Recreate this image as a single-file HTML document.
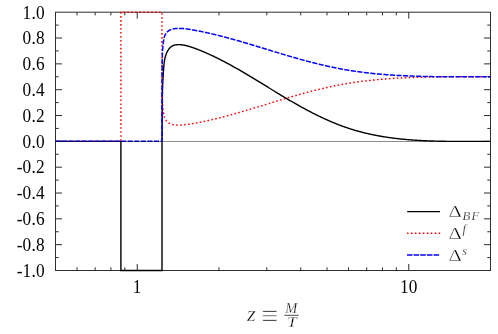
<!DOCTYPE html>
<html><head><meta charset="utf-8"><style>
html,body{margin:0;padding:0;background:#fff;}
svg{display:block}
.tx{filter:grayscale(1)}
text{font-family:"Liberation Serif",serif;fill:#000}
</style></head><body>
<svg width="498" height="334" viewBox="0 0 498 334">
<rect width="498" height="334" fill="#fff"/>
<path d="M55.5,257.59h3.2M490.5,257.59h-3.2M55.5,244.67h6.5M490.5,244.67h-6.5M55.5,231.75h3.2M490.5,231.75h-3.2M55.5,218.84h6.5M490.5,218.84h-6.5M55.5,205.93h3.2M490.5,205.93h-3.2M55.5,193.01h6.5M490.5,193.01h-6.5M55.5,180.09h3.2M490.5,180.09h-3.2M55.5,167.18h6.5M490.5,167.18h-6.5M55.5,154.26h3.2M490.5,154.26h-3.2M55.5,141.35h6.5M490.5,141.35h-6.5M55.5,128.43h3.2M490.5,128.43h-3.2M55.5,115.52h6.5M490.5,115.52h-6.5M55.5,102.60h3.2M490.5,102.60h-3.2M55.5,89.69h6.5M490.5,89.69h-6.5M55.5,76.77h3.2M490.5,76.77h-3.2M55.5,63.86h6.5M490.5,63.86h-6.5M55.5,50.94h3.2M490.5,50.94h-3.2M55.5,38.03h6.5M490.5,38.03h-6.5M55.5,25.11h3.2M490.5,25.11h-3.2M77.00,270.5v-3.2M77.00,12.2v3.2M95.18,270.5v-3.2M95.18,12.2v3.2M110.92,270.5v-3.2M110.92,12.2v3.2M124.81,270.5v-3.2M124.81,12.2v3.2M137.24,270.5v-6.5M137.24,12.2v6.5M218.97,270.5v-3.2M218.97,12.2v3.2M266.79,270.5v-3.2M266.79,12.2v3.2M300.71,270.5v-3.2M300.71,12.2v3.2M327.03,270.5v-3.2M327.03,12.2v3.2M348.53,270.5v-3.2M348.53,12.2v3.2M366.70,270.5v-3.2M366.70,12.2v3.2M382.45,270.5v-3.2M382.45,12.2v3.2M396.34,270.5v-3.2M396.34,12.2v3.2M408.76,270.5v-6.5M408.76,12.2v6.5" stroke="#2e2e2e" stroke-width="1" fill="none"/>
<rect x="55.5" y="12.2" width="435.0" height="258.3" fill="none" stroke="#2e2e2e" stroke-width="1"/>
<path d="M55.50,141.35 L120.90,141.35 L120.90,270.50 L162.00,270.50 L162.00,141.35 L162.00,141.35 L162.01,140.86 L162.02,140.38 L162.02,139.89 L162.03,139.40 L162.04,138.92 L162.04,138.43 L162.05,137.95 L162.05,137.46 L162.06,136.97 L162.07,136.49 L162.07,136.00 L162.08,135.51 L162.08,135.03 L162.09,134.54 L162.09,134.05 L162.09,133.57 L162.10,133.08 L162.10,132.59 L162.11,132.10 L162.11,131.62 L162.11,131.13 L162.12,130.64 L162.12,130.16 L162.12,129.67 L162.13,129.18 L162.13,128.70 L162.13,128.21 L162.13,127.72 L162.14,127.23 L162.14,126.75 L162.14,126.26 L162.14,125.77 L162.15,125.29 L162.15,124.80 L162.15,124.31 L162.15,123.82 L162.16,123.34 L162.16,122.85 L162.16,122.36 L162.16,121.88 L162.16,121.39 L162.16,120.90 L162.17,120.41 L162.17,119.93 L162.17,119.44 L162.17,118.95 L162.17,118.46 L162.18,117.98 L162.18,117.49 L162.18,117.00 L162.18,116.51 L162.18,116.03 L162.19,115.54 L162.19,115.05 L162.19,114.56 L162.19,114.08 L162.20,113.59 L162.20,113.10 L162.20,112.61 L162.20,112.13 L162.21,111.64 L162.21,111.15 L162.21,110.66 L162.22,110.18 L162.22,109.69 L162.22,109.20 L162.23,108.72 L162.23,108.23 L162.23,107.74 L162.24,107.25 L162.24,106.77 L162.25,106.28 L162.25,105.79 L162.26,105.30 L162.26,104.82 L162.27,104.33 L162.27,103.84 L162.28,103.35 L162.28,102.87 L162.29,102.38 L162.29,101.89 L162.30,101.40 L162.31,100.92 L162.31,100.43 L162.32,99.94 L162.33,99.45 L162.34,98.97 L162.35,98.48 L162.35,97.99 L162.36,97.50 L162.37,97.02 L162.38,96.53 L162.39,96.04 L162.40,95.56 L162.41,95.07 L162.42,94.58 L162.43,94.09 L162.44,93.61 L162.46,93.12 L162.47,92.63 L162.48,92.14 L162.49,91.66 L162.51,91.17 L162.52,90.68 L162.53,90.20 L162.55,89.71 L162.56,89.22 L162.58,88.74 L162.59,88.25 L162.61,87.76 L162.62,87.27 L162.64,86.79 L162.66,86.30 L162.68,85.81 L162.69,85.33 L162.71,84.84 L162.73,84.35 L162.75,83.87 L162.77,83.38 L162.79,82.89 L162.81,82.41 L162.83,81.92 L162.86,81.43 L162.88,80.95 L162.90,80.46 L162.92,79.97 L162.95,79.49 L162.97,79.00 L163.00,78.51 L163.02,78.03 L163.05,77.54 L163.08,77.05 L163.10,76.57 L163.13,76.08 L163.16,75.60 L163.19,75.11 L163.22,74.62 L163.25,74.14 L163.28,73.65 L163.31,73.17 L163.34,72.68 L163.38,72.19 L163.41,71.71 L163.44,71.22 L163.48,70.74 L163.51,70.25 L163.55,69.76 L163.59,69.28 L163.62,68.79 L163.66,68.31 L163.70,67.82 L163.74,67.34 L163.78,66.85 L163.82,66.37 L163.86,65.88 L163.91,65.40 L163.95,64.91 L164.00,64.43 L164.05,63.94 L164.11,63.46 L164.16,62.98 L164.22,62.49 L164.29,62.01 L164.36,61.53 L164.43,61.05 L164.51,60.57 L164.59,60.09 L164.68,59.62 L164.77,59.14 L164.87,58.66 L164.97,58.19 L165.08,57.72 L165.20,57.24 L165.32,56.77 L165.45,56.30 L165.59,55.84 L165.74,55.37 L165.89,54.90 L166.06,54.44 L166.23,53.98 L166.41,53.52 L166.60,53.07 L166.80,52.62 L167.01,52.17 L167.23,51.73 L167.46,51.29 L167.70,50.86 L167.95,50.44 L168.21,50.03 L168.49,49.62 L168.77,49.22 L169.07,48.83 L169.38,48.45 L169.70,48.08 L170.04,47.73 L170.39,47.38 L170.75,47.06 L171.12,46.75 L171.51,46.47 L171.91,46.20 L172.32,45.96 L172.75,45.75 L173.19,45.55 L173.64,45.38 L174.10,45.23 L174.57,45.10 L175.04,44.99 L175.52,44.89 L176.01,44.82 L176.49,44.75 L176.98,44.71 L177.48,44.67 L177.97,44.65 L178.46,44.64 L178.95,44.63 L179.44,44.64 L179.93,44.66 L180.42,44.69 L180.90,44.73 L181.39,44.77 L181.87,44.82 L182.35,44.89 L182.84,44.96 L183.32,45.03 L183.80,45.12 L184.27,45.21 L184.75,45.31 L185.23,45.41 L185.70,45.52 L186.18,45.63 L186.65,45.75 L187.12,45.87 L187.59,46.00 L188.06,46.13 L188.53,46.27 L189.00,46.41 L189.47,46.55 L189.93,46.69 L190.40,46.84 L190.86,46.99 L191.33,47.14 L191.79,47.29 L192.25,47.45 L192.71,47.60 L193.17,47.76 L193.63,47.92 L194.09,48.08 L194.55,48.25 L195.01,48.41 L195.46,48.58 L195.92,48.75 L196.37,48.92 L196.83,49.09 L197.28,49.26 L197.74,49.44 L198.19,49.61 L198.64,49.79 L199.09,49.97 L199.54,50.15 L200.00,50.33 L200.45,50.51 L200.90,50.70 L201.35,50.88 L201.80,51.07 L202.24,51.25 L202.69,51.44 L203.14,51.63 L203.59,51.82 L204.04,52.01 L204.48,52.20 L204.93,52.39 L205.38,52.59 L205.82,52.78 L206.27,52.98 L206.72,53.17 L207.16,53.37 L207.61,53.57 L208.05,53.77 L208.49,53.97 L208.94,54.17 L209.38,54.37 L209.83,54.57 L210.27,54.78 L210.71,54.98 L211.15,55.19 L211.60,55.39 L212.04,55.60 L212.48,55.81 L212.92,56.01 L213.36,56.22 L213.80,56.43 L214.24,56.64 L214.68,56.86 L215.12,57.07 L215.56,57.28 L216.00,57.50 L216.44,57.71 L216.88,57.93 L217.32,58.14 L217.75,58.36 L218.19,58.58 L218.63,58.79 L219.06,59.01 L219.50,59.23 L219.94,59.45 L220.37,59.67 L220.81,59.89 L221.24,60.12 L221.68,60.34 L222.11,60.56 L222.55,60.79 L222.98,61.01 L223.42,61.24 L223.85,61.46 L224.28,61.69 L224.71,61.92 L225.15,62.15 L225.58,62.37 L226.01,62.60 L226.44,62.83 L226.87,63.06 L227.30,63.29 L227.74,63.53 L228.17,63.76 L228.60,63.99 L229.03,64.22 L229.46,64.46 L229.88,64.69 L230.31,64.92 L230.74,65.16 L231.17,65.39 L231.60,65.63 L232.03,65.87 L232.45,66.10 L232.88,66.34 L233.31,66.58 L233.73,66.82 L234.16,67.05 L234.59,67.29 L235.01,67.53 L235.44,67.77 L235.86,68.01 L236.29,68.25 L236.71,68.49 L237.14,68.74 L237.56,68.98 L237.98,69.22 L238.41,69.46 L238.83,69.70 L239.25,69.95 L239.67,70.19 L240.10,70.43 L240.52,70.68 L240.94,70.92 L241.36,71.17 L241.78,71.41 L242.20,71.66 L242.62,71.90 L243.04,72.15 L243.46,72.39 L243.88,72.64 L244.30,72.89 L244.72,73.13 L245.14,73.38 L245.56,73.63 L245.98,73.88 L246.40,74.12 L246.82,74.37 L247.23,74.62 L247.65,74.87 L248.07,75.12 L248.49,75.37 L248.90,75.61 L249.32,75.86 L249.74,76.11 L250.15,76.36 L250.57,76.61 L250.99,76.86 L251.40,77.11 L251.82,77.36 L252.23,77.61 L252.65,77.87 L253.06,78.12 L253.48,78.37 L253.90,78.62 L254.31,78.87 L254.73,79.12 L255.14,79.37 L255.55,79.63 L255.97,79.88 L256.38,80.13 L256.80,80.38 L257.21,80.63 L257.63,80.89 L258.04,81.14 L258.45,81.39 L258.87,81.65 L259.28,81.90 L259.70,82.15 L260.11,82.40 L260.52,82.66 L260.94,82.91 L261.35,83.16 L261.76,83.42 L262.18,83.67 L262.59,83.92 L263.00,84.18 L263.42,84.43 L263.83,84.68 L264.24,84.94 L264.66,85.19 L265.07,85.45 L265.48,85.70 L265.90,85.95 L266.31,86.21 L266.72,86.46 L267.13,86.71 L267.55,86.97 L267.96,87.22 L268.37,87.47 L268.79,87.73 L269.20,87.98 L269.61,88.24 L270.03,88.49 L270.44,88.74 L270.85,89.00 L271.27,89.25 L271.68,89.50 L272.09,89.76 L272.51,90.01 L272.92,90.26 L273.34,90.52 L273.75,90.77 L274.16,91.02 L274.58,91.27 L274.99,91.53 L275.41,91.78 L275.82,92.03 L276.24,92.29 L276.65,92.54 L277.06,92.79 L277.48,93.04 L277.89,93.29 L278.31,93.55 L278.72,93.80 L279.14,94.05 L279.56,94.30 L279.97,94.55 L280.39,94.80 L280.80,95.05 L281.22,95.30 L281.64,95.55 L282.05,95.81 L282.47,96.06 L282.89,96.31 L283.30,96.56 L283.72,96.81 L284.14,97.05 L284.56,97.30 L284.97,97.55 L285.39,97.80 L285.81,98.05 L286.23,98.30 L286.65,98.55 L287.07,98.79 L287.48,99.04 L287.90,99.29 L288.32,99.54 L288.74,99.78 L289.16,100.03 L289.58,100.28 L290.00,100.52 L290.43,100.77 L290.85,101.01 L291.27,101.26 L291.69,101.51 L292.11,101.75 L292.53,101.99 L292.96,102.24 L293.38,102.48 L293.80,102.73 L294.23,102.97 L294.65,103.21 L295.07,103.45 L295.50,103.70 L295.92,103.94 L296.35,104.18 L296.77,104.42 L297.20,104.66 L297.63,104.90 L298.05,105.14 L298.48,105.38 L298.91,105.62 L299.33,105.86 L299.76,106.10 L300.19,106.34 L300.62,106.57 L301.05,106.81 L301.47,107.05 L301.90,107.28 L302.33,107.52 L302.76,107.76 L303.19,107.99 L303.62,108.23 L304.05,108.46 L304.48,108.69 L304.91,108.93 L305.35,109.16 L305.78,109.39 L306.21,109.62 L306.64,109.85 L307.08,110.08 L307.51,110.31 L307.94,110.54 L308.38,110.77 L308.81,111.00 L309.24,111.23 L309.68,111.46 L310.11,111.68 L310.55,111.91 L310.98,112.13 L311.42,112.36 L311.86,112.58 L312.29,112.81 L312.73,113.03 L313.17,113.25 L313.60,113.48 L314.04,113.70 L314.48,113.92 L314.92,114.14 L315.36,114.36 L315.80,114.58 L316.23,114.79 L316.67,115.01 L317.11,115.23 L317.55,115.44 L317.99,115.66 L318.43,115.87 L318.88,116.09 L319.32,116.30 L319.76,116.51 L320.20,116.73 L320.64,116.94 L321.09,117.15 L321.53,117.36 L321.97,117.57 L322.41,117.77 L322.86,117.98 L323.30,118.19 L323.75,118.39 L324.19,118.60 L324.64,118.80 L325.08,119.01 L325.53,119.21 L325.97,119.41 L326.42,119.61 L326.87,119.81 L327.31,120.01 L327.76,120.21 L328.21,120.41 L328.66,120.61 L329.10,120.80 L329.55,121.00 L330.00,121.19 L330.45,121.38 L330.90,121.58 L331.35,121.77 L331.80,121.96 L332.25,122.15 L332.70,122.34 L333.15,122.53 L333.60,122.71 L334.05,122.90 L334.50,123.08 L334.95,123.27 L335.41,123.45 L335.86,123.63 L336.31,123.82 L336.77,124.00 L337.22,124.18 L337.67,124.35 L338.13,124.53 L338.58,124.71 L339.04,124.88 L339.49,125.06 L339.95,125.23 L340.40,125.40 L340.86,125.58 L341.31,125.75 L341.77,125.92 L342.23,126.08 L342.68,126.25 L343.14,126.42 L343.60,126.58 L344.06,126.75 L344.52,126.91 L344.97,127.07 L345.43,127.23 L345.89,127.39 L346.35,127.55 L346.81,127.71 L347.27,127.86 L347.73,128.02 L348.19,128.17 L348.65,128.32 L349.11,128.48 L349.58,128.63 L350.04,128.78 L350.50,128.92 L350.96,129.07 L351.42,129.22 L351.89,129.36 L352.35,129.51 L352.81,129.65 L353.28,129.79 L353.74,129.93 L354.21,130.07 L354.67,130.21 L355.14,130.34 L355.60,130.48 L356.07,130.61 L356.53,130.75 L357.00,130.88 L357.47,131.01 L357.93,131.14 L358.40,131.27 L358.87,131.40 L359.34,131.53 L359.80,131.65 L360.27,131.78 L360.74,131.90 L361.21,132.02 L361.68,132.15 L362.15,132.27 L362.61,132.39 L363.08,132.50 L363.55,132.62 L364.02,132.74 L364.49,132.85 L364.97,132.97 L365.44,133.08 L365.91,133.20 L366.38,133.31 L366.85,133.42 L367.32,133.53 L367.79,133.64 L368.27,133.74 L368.74,133.85 L369.21,133.96 L369.68,134.06 L370.16,134.16 L370.63,134.27 L371.10,134.37 L371.58,134.47 L372.05,134.57 L372.53,134.67 L373.00,134.77 L373.48,134.86 L373.95,134.96 L374.43,135.05 L374.90,135.15 L375.38,135.24 L375.85,135.33 L376.33,135.43 L376.81,135.52 L377.28,135.61 L377.76,135.69 L378.24,135.78 L378.71,135.87 L379.19,135.96 L379.67,136.04 L380.14,136.12 L380.62,136.21 L381.10,136.29 L381.58,136.37 L382.06,136.45 L382.54,136.53 L383.01,136.61 L383.49,136.69 L383.97,136.77 L384.45,136.85 L384.93,136.92 L385.41,137.00 L385.89,137.07 L386.37,137.14 L386.85,137.22 L387.33,137.29 L387.81,137.36 L388.29,137.43 L388.77,137.50 L389.26,137.57 L389.74,137.63 L390.22,137.70 L390.70,137.77 L391.18,137.83 L391.66,137.90 L392.15,137.96 L392.63,138.03 L393.11,138.09 L393.59,138.15 L394.08,138.21 L394.56,138.27 L395.04,138.33 L395.52,138.39 L396.01,138.45 L396.49,138.50 L396.97,138.56 L397.46,138.62 L397.94,138.67 L398.43,138.73 L398.91,138.78 L399.39,138.83 L399.88,138.88 L400.36,138.94 L400.85,138.99 L401.33,139.04 L401.82,139.09 L402.30,139.14 L402.79,139.18 L403.27,139.23 L403.76,139.28 L404.24,139.32 L404.73,139.37 L405.21,139.41 L405.70,139.46 L406.19,139.50 L406.67,139.55 L407.16,139.59 L407.64,139.63 L408.13,139.67 L408.62,139.71 L409.10,139.75 L409.59,139.79 L410.08,139.83 L410.56,139.87 L411.05,139.90 L411.54,139.94 L412.02,139.98 L412.51,140.01 L413.00,140.05 L413.49,140.08 L413.97,140.12 L414.46,140.15 L414.95,140.18 L415.44,140.22 L415.92,140.25 L416.41,140.28 L416.90,140.31 L417.39,140.34 L417.88,140.37 L418.36,140.40 L418.85,140.43 L419.34,140.46 L419.83,140.48 L420.32,140.51 L420.81,140.54 L421.29,140.56 L421.78,140.59 L422.27,140.61 L422.76,140.64 L423.25,140.66 L423.74,140.69 L424.23,140.71 L424.71,140.73 L425.20,140.75 L425.69,140.78 L426.18,140.80 L426.67,140.82 L427.16,140.84 L427.65,140.86 L428.14,140.88 L428.63,140.90 L429.12,140.92 L429.61,140.93 L430.10,140.95 L430.58,140.97 L431.07,140.99 L431.56,141.00 L432.05,141.02 L432.54,141.04 L433.03,141.05 L433.52,141.07 L434.01,141.08 L434.50,141.09 L434.99,141.11 L435.48,141.12 L435.97,141.14 L436.46,141.15 L436.95,141.16 L437.44,141.17 L437.93,141.18 L438.42,141.20 L438.91,141.21 L439.40,141.22 L439.89,141.23 L440.38,141.24 L440.87,141.25 L441.36,141.26 L441.84,141.27 L442.33,141.27 L442.82,141.28 L443.31,141.29 L443.80,141.30 L444.29,141.31 L444.78,141.31 L445.27,141.32 L445.76,141.33 L446.25,141.33 L446.74,141.34 L447.23,141.35 L447.72,141.35 L448.21,141.36 L448.70,141.36 L449.19,141.37 L449.68,141.37 L450.17,141.38 L450.65,141.38 L451.14,141.39 L451.63,141.39 L452.12,141.39 L452.61,141.40 L453.10,141.40 L453.59,141.40 L454.08,141.40 L454.57,141.41 L455.06,141.41 L455.54,141.41 L456.03,141.41 L456.52,141.41 L457.01,141.42 L457.50,141.42 L457.99,141.42 L458.48,141.42 L458.96,141.42 L459.45,141.42 L459.94,141.42 L460.43,141.42 L460.92,141.42 L461.41,141.42 L461.89,141.42 L462.38,141.42 L462.87,141.42 L463.36,141.42 L463.84,141.42 L464.33,141.42 L464.82,141.42 L465.31,141.42 L465.79,141.42 L466.28,141.42 L466.77,141.42 L467.26,141.42 L467.74,141.41 L468.23,141.41 L468.72,141.41 L469.20,141.41 L469.69,141.41 L470.18,141.41 L470.66,141.41 L471.15,141.40 L471.64,141.40 L472.12,141.40 L472.61,141.40 L473.09,141.40 L473.58,141.40 L474.07,141.39 L474.55,141.39 L475.04,141.39 L475.52,141.39 L476.01,141.39 L476.49,141.38 L476.98,141.38 L477.46,141.38 L477.95,141.38 L478.43,141.38 L478.92,141.38 L479.40,141.37 L479.88,141.37 L480.37,141.37 L480.85,141.37 L481.34,141.37 L481.82,141.36 L482.30,141.36 L482.79,141.36 L483.27,141.36 L483.75,141.36 L484.24,141.36 L484.72,141.36 L485.20,141.36 L485.68,141.35 L486.17,141.35 L486.65,141.35 L487.13,141.35 L487.61,141.35 L488.09,141.35 L488.58,141.35 L489.06,141.35 L489.54,141.35 L490.02,141.35 L490.50,141.35" stroke="#000" stroke-width="1.4" fill="none" stroke-linejoin="miter"/>
<path d="M55.50,141.35 L120.90,141.35 L120.90,12.20 L162.00,12.20 L162.00,76.77 L162.00,76.77 L162.01,77.02 L162.02,77.26 L162.02,77.50 L162.03,77.75 L162.04,77.99 L162.04,78.23 L162.05,78.48 L162.05,78.72 L162.06,78.96 L162.07,79.21 L162.07,79.45 L162.08,79.69 L162.08,79.94 L162.09,80.18 L162.09,80.42 L162.09,80.67 L162.10,80.91 L162.10,81.15 L162.11,81.40 L162.11,81.64 L162.11,81.88 L162.12,82.13 L162.12,82.37 L162.12,82.62 L162.13,82.86 L162.13,83.10 L162.13,83.35 L162.13,83.59 L162.14,83.83 L162.14,84.08 L162.14,84.32 L162.14,84.56 L162.15,84.81 L162.15,85.05 L162.15,85.29 L162.15,85.54 L162.16,85.78 L162.16,86.03 L162.16,86.27 L162.16,86.51 L162.16,86.76 L162.16,87.00 L162.17,87.24 L162.17,87.49 L162.17,87.73 L162.17,87.97 L162.17,88.22 L162.18,88.46 L162.18,88.71 L162.18,88.95 L162.18,89.19 L162.18,89.44 L162.19,89.68 L162.19,89.92 L162.19,90.17 L162.19,90.41 L162.20,90.66 L162.20,90.90 L162.20,91.14 L162.20,91.39 L162.21,91.63 L162.21,91.87 L162.21,92.12 L162.22,92.36 L162.22,92.61 L162.22,92.85 L162.23,93.09 L162.23,93.34 L162.23,93.58 L162.24,93.82 L162.24,94.07 L162.25,94.31 L162.25,94.55 L162.26,94.80 L162.26,95.04 L162.27,95.29 L162.27,95.53 L162.28,95.77 L162.28,96.02 L162.29,96.26 L162.29,96.50 L162.30,96.75 L162.31,96.99 L162.31,97.24 L162.32,97.48 L162.33,97.72 L162.34,97.97 L162.35,98.21 L162.35,98.45 L162.36,98.70 L162.37,98.94 L162.38,99.19 L162.39,99.43 L162.40,99.67 L162.41,99.92 L162.42,100.16 L162.43,100.40 L162.44,100.65 L162.46,100.89 L162.47,101.13 L162.48,101.38 L162.49,101.62 L162.51,101.86 L162.52,102.11 L162.53,102.35 L162.55,102.60 L162.56,102.84 L162.58,103.08 L162.59,103.33 L162.61,103.57 L162.62,103.81 L162.64,104.06 L162.66,104.30 L162.68,104.54 L162.69,104.79 L162.71,105.03 L162.73,105.27 L162.75,105.52 L162.77,105.76 L162.79,106.00 L162.81,106.25 L162.83,106.49 L162.86,106.73 L162.88,106.98 L162.90,107.22 L162.92,107.46 L162.95,107.71 L162.97,107.95 L163.00,108.19 L163.02,108.44 L163.05,108.68 L163.08,108.92 L163.10,109.17 L163.13,109.41 L163.16,109.65 L163.19,109.90 L163.22,110.14 L163.25,110.38 L163.28,110.62 L163.31,110.87 L163.34,111.11 L163.38,111.35 L163.41,111.60 L163.44,111.84 L163.48,112.08 L163.51,112.33 L163.55,112.57 L163.59,112.81 L163.62,113.05 L163.66,113.30 L163.70,113.54 L163.74,113.78 L163.78,114.02 L163.82,114.27 L163.86,114.51 L163.91,114.75 L163.95,114.99 L164.00,115.24 L164.05,115.48 L164.11,115.72 L164.16,115.96 L164.22,116.20 L164.29,116.44 L164.36,116.68 L164.43,116.92 L164.51,117.16 L164.59,117.40 L164.68,117.64 L164.77,117.88 L164.87,118.12 L164.97,118.36 L165.08,118.59 L165.20,118.83 L165.32,119.06 L165.45,119.30 L165.59,119.53 L165.74,119.77 L165.89,120.00 L166.06,120.23 L166.23,120.46 L166.41,120.69 L166.60,120.92 L166.80,121.14 L167.01,121.36 L167.23,121.59 L167.46,121.80 L167.70,122.02 L167.95,122.23 L168.21,122.44 L168.49,122.64 L168.77,122.84 L169.07,123.03 L169.38,123.22 L169.70,123.41 L170.04,123.59 L170.39,123.76 L170.75,123.92 L171.12,124.07 L171.51,124.22 L171.91,124.35 L172.32,124.47 L172.75,124.58 L173.19,124.67 L173.64,124.76 L174.10,124.83 L174.57,124.90 L175.04,124.96 L175.52,125.00 L176.01,125.04 L176.49,125.07 L176.98,125.10 L177.48,125.12 L177.97,125.13 L178.46,125.13 L178.95,125.13 L179.44,125.13 L179.93,125.12 L180.42,125.11 L180.90,125.09 L181.39,125.06 L181.87,125.04 L182.35,125.01 L182.84,124.97 L183.32,124.93 L183.80,124.89 L184.27,124.85 L184.75,124.80 L185.23,124.75 L185.70,124.69 L186.18,124.63 L186.65,124.57 L187.12,124.51 L187.59,124.45 L188.06,124.38 L188.53,124.32 L189.00,124.25 L189.47,124.17 L189.93,124.10 L190.40,124.03 L190.86,123.96 L191.33,123.88 L191.79,123.80 L192.25,123.73 L192.71,123.65 L193.17,123.57 L193.63,123.49 L194.09,123.41 L194.55,123.33 L195.01,123.24 L195.46,123.16 L195.92,123.08 L196.37,122.99 L196.83,122.91 L197.28,122.82 L197.74,122.73 L198.19,122.64 L198.64,122.55 L199.09,122.47 L199.54,122.38 L200.00,122.28 L200.45,122.19 L200.90,122.10 L201.35,122.01 L201.80,121.92 L202.24,121.82 L202.69,121.73 L203.14,121.64 L203.59,121.54 L204.04,121.44 L204.48,121.35 L204.93,121.25 L205.38,121.16 L205.82,121.06 L206.27,120.96 L206.72,120.86 L207.16,120.76 L207.61,120.67 L208.05,120.57 L208.49,120.47 L208.94,120.37 L209.38,120.26 L209.83,120.16 L210.27,120.06 L210.71,119.96 L211.15,119.86 L211.60,119.75 L212.04,119.65 L212.48,119.55 L212.92,119.44 L213.36,119.34 L213.80,119.23 L214.24,119.13 L214.68,119.02 L215.12,118.92 L215.56,118.81 L216.00,118.70 L216.44,118.60 L216.88,118.49 L217.32,118.38 L217.75,118.27 L218.19,118.16 L218.63,118.05 L219.06,117.94 L219.50,117.83 L219.94,117.72 L220.37,117.61 L220.81,117.50 L221.24,117.39 L221.68,117.28 L222.11,117.17 L222.55,117.06 L222.98,116.94 L223.42,116.83 L223.85,116.72 L224.28,116.60 L224.71,116.49 L225.15,116.38 L225.58,116.26 L226.01,116.15 L226.44,116.03 L226.87,115.92 L227.30,115.80 L227.74,115.69 L228.17,115.57 L228.60,115.46 L229.03,115.34 L229.46,115.22 L229.88,115.11 L230.31,114.99 L230.74,114.87 L231.17,114.75 L231.60,114.64 L232.03,114.52 L232.45,114.40 L232.88,114.28 L233.31,114.16 L233.73,114.04 L234.16,113.92 L234.59,113.80 L235.01,113.68 L235.44,113.56 L235.86,113.44 L236.29,113.32 L236.71,113.20 L237.14,113.08 L237.56,112.96 L237.98,112.84 L238.41,112.72 L238.83,112.60 L239.25,112.48 L239.67,112.35 L240.10,112.23 L240.52,112.11 L240.94,111.99 L241.36,111.87 L241.78,111.74 L242.20,111.62 L242.62,111.50 L243.04,111.38 L243.46,111.25 L243.88,111.13 L244.30,111.01 L244.72,110.88 L245.14,110.76 L245.56,110.64 L245.98,110.51 L246.40,110.39 L246.82,110.26 L247.23,110.14 L247.65,110.02 L248.07,109.89 L248.49,109.77 L248.90,109.64 L249.32,109.52 L249.74,109.39 L250.15,109.27 L250.57,109.14 L250.99,109.02 L251.40,108.89 L251.82,108.77 L252.23,108.64 L252.65,108.52 L253.06,108.39 L253.48,108.27 L253.90,108.14 L254.31,108.01 L254.73,107.89 L255.14,107.76 L255.55,107.64 L255.97,107.51 L256.38,107.38 L256.80,107.26 L257.21,107.13 L257.63,107.01 L258.04,106.88 L258.45,106.75 L258.87,106.63 L259.28,106.50 L259.70,106.37 L260.11,106.25 L260.52,106.12 L260.94,105.99 L261.35,105.87 L261.76,105.74 L262.18,105.61 L262.59,105.49 L263.00,105.36 L263.42,105.23 L263.83,105.11 L264.24,104.98 L264.66,104.85 L265.07,104.73 L265.48,104.60 L265.90,104.47 L266.31,104.35 L266.72,104.22 L267.13,104.09 L267.55,103.97 L267.96,103.84 L268.37,103.71 L268.79,103.59 L269.20,103.46 L269.61,103.33 L270.03,103.21 L270.44,103.08 L270.85,102.95 L271.27,102.83 L271.68,102.70 L272.09,102.57 L272.51,102.45 L272.92,102.32 L273.34,102.19 L273.75,102.07 L274.16,101.94 L274.58,101.81 L274.99,101.69 L275.41,101.56 L275.82,101.43 L276.24,101.31 L276.65,101.18 L277.06,101.06 L277.48,100.93 L277.89,100.80 L278.31,100.68 L278.72,100.55 L279.14,100.43 L279.56,100.30 L279.97,100.17 L280.39,100.05 L280.80,99.92 L281.22,99.80 L281.64,99.67 L282.05,99.55 L282.47,99.42 L282.89,99.30 L283.30,99.17 L283.72,99.05 L284.14,98.92 L284.56,98.80 L284.97,98.67 L285.39,98.55 L285.81,98.42 L286.23,98.30 L286.65,98.18 L287.07,98.05 L287.48,97.93 L287.90,97.81 L288.32,97.68 L288.74,97.56 L289.16,97.43 L289.58,97.31 L290.00,97.19 L290.43,97.07 L290.85,96.94 L291.27,96.82 L291.69,96.70 L292.11,96.58 L292.53,96.45 L292.96,96.33 L293.38,96.21 L293.80,96.09 L294.23,95.97 L294.65,95.84 L295.07,95.72 L295.50,95.60 L295.92,95.48 L296.35,95.36 L296.77,95.24 L297.20,95.12 L297.63,95.00 L298.05,94.88 L298.48,94.76 L298.91,94.64 L299.33,94.52 L299.76,94.40 L300.19,94.28 L300.62,94.16 L301.05,94.04 L301.47,93.93 L301.90,93.81 L302.33,93.69 L302.76,93.57 L303.19,93.45 L303.62,93.34 L304.05,93.22 L304.48,93.10 L304.91,92.99 L305.35,92.87 L305.78,92.75 L306.21,92.64 L306.64,92.52 L307.08,92.41 L307.51,92.29 L307.94,92.18 L308.38,92.06 L308.81,91.95 L309.24,91.84 L309.68,91.72 L310.11,91.61 L310.55,91.50 L310.98,91.38 L311.42,91.27 L311.86,91.16 L312.29,91.05 L312.73,90.93 L313.17,90.82 L313.60,90.71 L314.04,90.60 L314.48,90.49 L314.92,90.38 L315.36,90.27 L315.80,90.16 L316.23,90.05 L316.67,89.94 L317.11,89.84 L317.55,89.73 L317.99,89.62 L318.43,89.51 L318.88,89.41 L319.32,89.30 L319.76,89.19 L320.20,89.09 L320.64,88.98 L321.09,88.88 L321.53,88.77 L321.97,88.67 L322.41,88.56 L322.86,88.46 L323.30,88.36 L323.75,88.25 L324.19,88.15 L324.64,88.05 L325.08,87.95 L325.53,87.84 L325.97,87.74 L326.42,87.64 L326.87,87.54 L327.31,87.44 L327.76,87.34 L328.21,87.25 L328.66,87.15 L329.10,87.05 L329.55,86.95 L330.00,86.85 L330.45,86.76 L330.90,86.66 L331.35,86.57 L331.80,86.47 L332.25,86.38 L332.70,86.28 L333.15,86.19 L333.60,86.09 L334.05,86.00 L334.50,85.91 L334.95,85.82 L335.41,85.72 L335.86,85.63 L336.31,85.54 L336.77,85.45 L337.22,85.36 L337.67,85.27 L338.13,85.18 L338.58,85.10 L339.04,85.01 L339.49,84.92 L339.95,84.83 L340.40,84.75 L340.86,84.66 L341.31,84.58 L341.77,84.49 L342.23,84.41 L342.68,84.32 L343.14,84.24 L343.60,84.16 L344.06,84.08 L344.52,84.00 L344.97,83.91 L345.43,83.83 L345.89,83.75 L346.35,83.68 L346.81,83.60 L347.27,83.52 L347.73,83.44 L348.19,83.36 L348.65,83.29 L349.11,83.21 L349.58,83.14 L350.04,83.06 L350.50,82.99 L350.96,82.91 L351.42,82.84 L351.89,82.77 L352.35,82.70 L352.81,82.63 L353.28,82.56 L353.74,82.49 L354.21,82.42 L354.67,82.35 L355.14,82.28 L355.60,82.21 L356.07,82.14 L356.53,82.08 L357.00,82.01 L357.47,81.94 L357.93,81.88 L358.40,81.81 L358.87,81.75 L359.34,81.69 L359.80,81.62 L360.27,81.56 L360.74,81.50 L361.21,81.44 L361.68,81.38 L362.15,81.32 L362.61,81.26 L363.08,81.20 L363.55,81.14 L364.02,81.08 L364.49,81.02 L364.97,80.97 L365.44,80.91 L365.91,80.85 L366.38,80.80 L366.85,80.74 L367.32,80.69 L367.79,80.63 L368.27,80.58 L368.74,80.53 L369.21,80.47 L369.68,80.42 L370.16,80.37 L370.63,80.32 L371.10,80.27 L371.58,80.22 L372.05,80.17 L372.53,80.12 L373.00,80.07 L373.48,80.02 L373.95,79.97 L374.43,79.92 L374.90,79.88 L375.38,79.83 L375.85,79.78 L376.33,79.74 L376.81,79.69 L377.28,79.65 L377.76,79.60 L378.24,79.56 L378.71,79.52 L379.19,79.47 L379.67,79.43 L380.14,79.39 L380.62,79.35 L381.10,79.30 L381.58,79.26 L382.06,79.22 L382.54,79.18 L383.01,79.14 L383.49,79.10 L383.97,79.07 L384.45,79.03 L384.93,78.99 L385.41,78.95 L385.89,78.91 L386.37,78.88 L386.85,78.84 L387.33,78.81 L387.81,78.77 L388.29,78.74 L388.77,78.70 L389.26,78.67 L389.74,78.63 L390.22,78.60 L390.70,78.57 L391.18,78.53 L391.66,78.50 L392.15,78.47 L392.63,78.44 L393.11,78.41 L393.59,78.38 L394.08,78.34 L394.56,78.31 L395.04,78.29 L395.52,78.26 L396.01,78.23 L396.49,78.20 L396.97,78.17 L397.46,78.14 L397.94,78.11 L398.43,78.09 L398.91,78.06 L399.39,78.03 L399.88,78.01 L400.36,77.98 L400.85,77.96 L401.33,77.93 L401.82,77.91 L402.30,77.88 L402.79,77.86 L403.27,77.83 L403.76,77.81 L404.24,77.79 L404.73,77.77 L405.21,77.74 L405.70,77.72 L406.19,77.70 L406.67,77.68 L407.16,77.66 L407.64,77.64 L408.13,77.61 L408.62,77.59 L409.10,77.57 L409.59,77.55 L410.08,77.54 L410.56,77.52 L411.05,77.50 L411.54,77.48 L412.02,77.46 L412.51,77.44 L413.00,77.43 L413.49,77.41 L413.97,77.39 L414.46,77.37 L414.95,77.36 L415.44,77.34 L415.92,77.33 L416.41,77.31 L416.90,77.30 L417.39,77.28 L417.88,77.27 L418.36,77.25 L418.85,77.24 L419.34,77.22 L419.83,77.21 L420.32,77.19 L420.81,77.18 L421.29,77.17 L421.78,77.16 L422.27,77.14 L422.76,77.13 L423.25,77.12 L423.74,77.11 L424.23,77.10 L424.71,77.08 L425.20,77.07 L425.69,77.06 L426.18,77.05 L426.67,77.04 L427.16,77.03 L427.65,77.02 L428.14,77.01 L428.63,77.00 L429.12,76.99 L429.61,76.98 L430.10,76.97 L430.58,76.97 L431.07,76.96 L431.56,76.95 L432.05,76.94 L432.54,76.93 L433.03,76.92 L433.52,76.92 L434.01,76.91 L434.50,76.90 L434.99,76.90 L435.48,76.89 L435.97,76.88 L436.46,76.88 L436.95,76.87 L437.44,76.86 L437.93,76.86 L438.42,76.85 L438.91,76.85 L439.40,76.84 L439.89,76.84 L440.38,76.83 L440.87,76.83 L441.36,76.82 L441.84,76.82 L442.33,76.81 L442.82,76.81 L443.31,76.80 L443.80,76.80 L444.29,76.80 L444.78,76.79 L445.27,76.79 L445.76,76.79 L446.25,76.78 L446.74,76.78 L447.23,76.78 L447.72,76.77 L448.21,76.77 L448.70,76.77 L449.19,76.77 L449.68,76.76 L450.17,76.76 L450.65,76.76 L451.14,76.76 L451.63,76.76 L452.12,76.75 L452.61,76.75 L453.10,76.75 L453.59,76.75 L454.08,76.75 L454.57,76.75 L455.06,76.75 L455.54,76.74 L456.03,76.74 L456.52,76.74 L457.01,76.74 L457.50,76.74 L457.99,76.74 L458.48,76.74 L458.96,76.74 L459.45,76.74 L459.94,76.74 L460.43,76.74 L460.92,76.74 L461.41,76.74 L461.89,76.74 L462.38,76.74 L462.87,76.74 L463.36,76.74 L463.84,76.74 L464.33,76.74 L464.82,76.74 L465.31,76.74 L465.79,76.74 L466.28,76.74 L466.77,76.74 L467.26,76.74 L467.74,76.74 L468.23,76.74 L468.72,76.74 L469.20,76.74 L469.69,76.75 L470.18,76.75 L470.66,76.75 L471.15,76.75 L471.64,76.75 L472.12,76.75 L472.61,76.75 L473.09,76.75 L473.58,76.75 L474.07,76.75 L474.55,76.75 L475.04,76.75 L475.52,76.76 L476.01,76.76 L476.49,76.76 L476.98,76.76 L477.46,76.76 L477.95,76.76 L478.43,76.76 L478.92,76.76 L479.40,76.76 L479.88,76.76 L480.37,76.77 L480.85,76.77 L481.34,76.77 L481.82,76.77 L482.30,76.77 L482.79,76.77 L483.27,76.77 L483.75,76.77 L484.24,76.77 L484.72,76.77 L485.20,76.77 L485.68,76.77 L486.17,76.77 L486.65,76.77 L487.13,76.77 L487.61,76.77 L488.09,76.77 L488.58,76.77 L489.06,76.78 L489.54,76.78 L490.02,76.78 L490.50,76.78" stroke="#f00" stroke-width="1.45" fill="none" stroke-dasharray="1.6 2.37" stroke-dashoffset="1.5"/>
<path d="M55.50,141.35 L162.00,141.35 L162.00,76.77 L162.00,76.77 L162.01,76.53 L162.02,76.29 L162.02,76.05 L162.03,75.80 L162.04,75.56 L162.04,75.32 L162.05,75.07 L162.05,74.83 L162.06,74.59 L162.07,74.34 L162.07,74.10 L162.08,73.86 L162.08,73.61 L162.09,73.37 L162.09,73.13 L162.09,72.88 L162.10,72.64 L162.10,72.40 L162.11,72.15 L162.11,71.91 L162.11,71.67 L162.12,71.42 L162.12,71.18 L162.12,70.93 L162.13,70.69 L162.13,70.45 L162.13,70.20 L162.13,69.96 L162.14,69.72 L162.14,69.47 L162.14,69.23 L162.14,68.99 L162.15,68.74 L162.15,68.50 L162.15,68.26 L162.15,68.01 L162.16,67.77 L162.16,67.52 L162.16,67.28 L162.16,67.04 L162.16,66.79 L162.16,66.55 L162.17,66.31 L162.17,66.06 L162.17,65.82 L162.17,65.58 L162.17,65.33 L162.18,65.09 L162.18,64.84 L162.18,64.60 L162.18,64.36 L162.18,64.11 L162.19,63.87 L162.19,63.63 L162.19,63.38 L162.19,63.14 L162.20,62.89 L162.20,62.65 L162.20,62.41 L162.20,62.16 L162.21,61.92 L162.21,61.68 L162.21,61.43 L162.22,61.19 L162.22,60.94 L162.22,60.70 L162.23,60.46 L162.23,60.21 L162.23,59.97 L162.24,59.73 L162.24,59.48 L162.25,59.24 L162.25,59.00 L162.26,58.75 L162.26,58.51 L162.27,58.26 L162.27,58.02 L162.28,57.78 L162.28,57.53 L162.29,57.29 L162.29,57.05 L162.30,56.80 L162.31,56.56 L162.31,56.31 L162.32,56.07 L162.33,55.83 L162.34,55.58 L162.35,55.34 L162.35,55.10 L162.36,54.85 L162.37,54.61 L162.38,54.36 L162.39,54.12 L162.40,53.88 L162.41,53.63 L162.42,53.39 L162.43,53.15 L162.44,52.90 L162.46,52.66 L162.47,52.42 L162.48,52.17 L162.49,51.93 L162.51,51.69 L162.52,51.44 L162.53,51.20 L162.55,50.95 L162.56,50.71 L162.58,50.47 L162.59,50.22 L162.61,49.98 L162.62,49.74 L162.64,49.49 L162.66,49.25 L162.68,49.01 L162.69,48.76 L162.71,48.52 L162.73,48.28 L162.75,48.03 L162.77,47.79 L162.79,47.55 L162.81,47.30 L162.83,47.06 L162.86,46.82 L162.88,46.57 L162.90,46.33 L162.92,46.09 L162.95,45.84 L162.97,45.60 L163.00,45.36 L163.02,45.11 L163.05,44.87 L163.08,44.63 L163.10,44.38 L163.13,44.14 L163.16,43.90 L163.19,43.65 L163.22,43.41 L163.25,43.17 L163.28,42.93 L163.31,42.68 L163.34,42.44 L163.38,42.20 L163.41,41.95 L163.44,41.71 L163.48,41.47 L163.51,41.22 L163.55,40.98 L163.59,40.74 L163.62,40.50 L163.66,40.25 L163.70,40.01 L163.74,39.77 L163.78,39.53 L163.82,39.28 L163.86,39.04 L163.91,38.80 L163.95,38.56 L164.00,38.31 L164.05,38.07 L164.11,37.83 L164.16,37.59 L164.22,37.35 L164.29,37.11 L164.36,36.87 L164.43,36.63 L164.51,36.39 L164.59,36.15 L164.68,35.91 L164.77,35.67 L164.87,35.43 L164.97,35.19 L165.08,34.96 L165.20,34.72 L165.32,34.49 L165.45,34.25 L165.59,34.02 L165.74,33.78 L165.89,33.55 L166.06,33.32 L166.23,33.09 L166.41,32.86 L166.60,32.63 L166.80,32.41 L167.01,32.19 L167.23,31.96 L167.46,31.75 L167.70,31.53 L167.95,31.32 L168.21,31.11 L168.49,30.91 L168.77,30.71 L169.07,30.52 L169.38,30.33 L169.70,30.14 L170.04,29.96 L170.39,29.79 L170.75,29.63 L171.12,29.48 L171.51,29.33 L171.91,29.20 L172.32,29.08 L172.75,28.97 L173.19,28.88 L173.64,28.79 L174.10,28.72 L174.57,28.65 L175.04,28.59 L175.52,28.55 L176.01,28.51 L176.49,28.48 L176.98,28.45 L177.48,28.43 L177.97,28.42 L178.46,28.42 L178.95,28.42 L179.44,28.42 L179.93,28.43 L180.42,28.44 L180.90,28.46 L181.39,28.49 L181.87,28.51 L182.35,28.54 L182.84,28.58 L183.32,28.62 L183.80,28.66 L184.27,28.70 L184.75,28.75 L185.23,28.80 L185.70,28.86 L186.18,28.92 L186.65,28.98 L187.12,29.04 L187.59,29.10 L188.06,29.17 L188.53,29.23 L189.00,29.30 L189.47,29.38 L189.93,29.45 L190.40,29.52 L190.86,29.59 L191.33,29.67 L191.79,29.75 L192.25,29.82 L192.71,29.90 L193.17,29.98 L193.63,30.06 L194.09,30.14 L194.55,30.22 L195.01,30.31 L195.46,30.39 L195.92,30.47 L196.37,30.56 L196.83,30.64 L197.28,30.73 L197.74,30.82 L198.19,30.91 L198.64,31.00 L199.09,31.08 L199.54,31.17 L200.00,31.27 L200.45,31.36 L200.90,31.45 L201.35,31.54 L201.80,31.63 L202.24,31.73 L202.69,31.82 L203.14,31.91 L203.59,32.01 L204.04,32.11 L204.48,32.20 L204.93,32.30 L205.38,32.39 L205.82,32.49 L206.27,32.59 L206.72,32.69 L207.16,32.79 L207.61,32.88 L208.05,32.98 L208.49,33.08 L208.94,33.18 L209.38,33.29 L209.83,33.39 L210.27,33.49 L210.71,33.59 L211.15,33.69 L211.60,33.80 L212.04,33.90 L212.48,34.00 L212.92,34.11 L213.36,34.21 L213.80,34.32 L214.24,34.42 L214.68,34.53 L215.12,34.63 L215.56,34.74 L216.00,34.85 L216.44,34.95 L216.88,35.06 L217.32,35.17 L217.75,35.28 L218.19,35.39 L218.63,35.50 L219.06,35.61 L219.50,35.72 L219.94,35.83 L220.37,35.94 L220.81,36.05 L221.24,36.16 L221.68,36.27 L222.11,36.38 L222.55,36.49 L222.98,36.61 L223.42,36.72 L223.85,36.83 L224.28,36.95 L224.71,37.06 L225.15,37.17 L225.58,37.29 L226.01,37.40 L226.44,37.52 L226.87,37.63 L227.30,37.75 L227.74,37.86 L228.17,37.98 L228.60,38.09 L229.03,38.21 L229.46,38.33 L229.88,38.44 L230.31,38.56 L230.74,38.68 L231.17,38.80 L231.60,38.91 L232.03,39.03 L232.45,39.15 L232.88,39.27 L233.31,39.39 L233.73,39.51 L234.16,39.63 L234.59,39.75 L235.01,39.87 L235.44,39.99 L235.86,40.11 L236.29,40.23 L236.71,40.35 L237.14,40.47 L237.56,40.59 L237.98,40.71 L238.41,40.83 L238.83,40.95 L239.25,41.07 L239.67,41.20 L240.10,41.32 L240.52,41.44 L240.94,41.56 L241.36,41.68 L241.78,41.81 L242.20,41.93 L242.62,42.05 L243.04,42.17 L243.46,42.30 L243.88,42.42 L244.30,42.54 L244.72,42.67 L245.14,42.79 L245.56,42.91 L245.98,43.04 L246.40,43.16 L246.82,43.29 L247.23,43.41 L247.65,43.53 L248.07,43.66 L248.49,43.78 L248.90,43.91 L249.32,44.03 L249.74,44.16 L250.15,44.28 L250.57,44.41 L250.99,44.53 L251.40,44.66 L251.82,44.78 L252.23,44.91 L252.65,45.03 L253.06,45.16 L253.48,45.28 L253.90,45.41 L254.31,45.54 L254.73,45.66 L255.14,45.79 L255.55,45.91 L255.97,46.04 L256.38,46.17 L256.80,46.29 L257.21,46.42 L257.63,46.54 L258.04,46.67 L258.45,46.80 L258.87,46.92 L259.28,47.05 L259.70,47.18 L260.11,47.30 L260.52,47.43 L260.94,47.56 L261.35,47.68 L261.76,47.81 L262.18,47.94 L262.59,48.06 L263.00,48.19 L263.42,48.32 L263.83,48.44 L264.24,48.57 L264.66,48.70 L265.07,48.82 L265.48,48.95 L265.90,49.08 L266.31,49.20 L266.72,49.33 L267.13,49.46 L267.55,49.58 L267.96,49.71 L268.37,49.84 L268.79,49.96 L269.20,50.09 L269.61,50.22 L270.03,50.34 L270.44,50.47 L270.85,50.60 L271.27,50.72 L271.68,50.85 L272.09,50.98 L272.51,51.10 L272.92,51.23 L273.34,51.36 L273.75,51.48 L274.16,51.61 L274.58,51.74 L274.99,51.86 L275.41,51.99 L275.82,52.12 L276.24,52.24 L276.65,52.37 L277.06,52.49 L277.48,52.62 L277.89,52.75 L278.31,52.87 L278.72,53.00 L279.14,53.12 L279.56,53.25 L279.97,53.38 L280.39,53.50 L280.80,53.63 L281.22,53.75 L281.64,53.88 L282.05,54.00 L282.47,54.13 L282.89,54.25 L283.30,54.38 L283.72,54.50 L284.14,54.63 L284.56,54.75 L284.97,54.88 L285.39,55.00 L285.81,55.13 L286.23,55.25 L286.65,55.37 L287.07,55.50 L287.48,55.62 L287.90,55.74 L288.32,55.87 L288.74,55.99 L289.16,56.12 L289.58,56.24 L290.00,56.36 L290.43,56.48 L290.85,56.61 L291.27,56.73 L291.69,56.85 L292.11,56.97 L292.53,57.10 L292.96,57.22 L293.38,57.34 L293.80,57.46 L294.23,57.58 L294.65,57.71 L295.07,57.83 L295.50,57.95 L295.92,58.07 L296.35,58.19 L296.77,58.31 L297.20,58.43 L297.63,58.55 L298.05,58.67 L298.48,58.79 L298.91,58.91 L299.33,59.03 L299.76,59.15 L300.19,59.27 L300.62,59.39 L301.05,59.51 L301.47,59.62 L301.90,59.74 L302.33,59.86 L302.76,59.98 L303.19,60.10 L303.62,60.21 L304.05,60.33 L304.48,60.45 L304.91,60.56 L305.35,60.68 L305.78,60.80 L306.21,60.91 L306.64,61.03 L307.08,61.14 L307.51,61.26 L307.94,61.37 L308.38,61.49 L308.81,61.60 L309.24,61.71 L309.68,61.83 L310.11,61.94 L310.55,62.05 L310.98,62.17 L311.42,62.28 L311.86,62.39 L312.29,62.50 L312.73,62.62 L313.17,62.73 L313.60,62.84 L314.04,62.95 L314.48,63.06 L314.92,63.17 L315.36,63.28 L315.80,63.39 L316.23,63.50 L316.67,63.61 L317.11,63.71 L317.55,63.82 L317.99,63.93 L318.43,64.04 L318.88,64.14 L319.32,64.25 L319.76,64.36 L320.20,64.46 L320.64,64.57 L321.09,64.67 L321.53,64.78 L321.97,64.88 L322.41,64.99 L322.86,65.09 L323.30,65.19 L323.75,65.30 L324.19,65.40 L324.64,65.50 L325.08,65.60 L325.53,65.71 L325.97,65.81 L326.42,65.91 L326.87,66.01 L327.31,66.11 L327.76,66.21 L328.21,66.30 L328.66,66.40 L329.10,66.50 L329.55,66.60 L330.00,66.70 L330.45,66.79 L330.90,66.89 L331.35,66.98 L331.80,67.08 L332.25,67.17 L332.70,67.27 L333.15,67.36 L333.60,67.46 L334.05,67.55 L334.50,67.64 L334.95,67.73 L335.41,67.83 L335.86,67.92 L336.31,68.01 L336.77,68.10 L337.22,68.19 L337.67,68.28 L338.13,68.37 L338.58,68.45 L339.04,68.54 L339.49,68.63 L339.95,68.72 L340.40,68.80 L340.86,68.89 L341.31,68.97 L341.77,69.06 L342.23,69.14 L342.68,69.23 L343.14,69.31 L343.60,69.39 L344.06,69.47 L344.52,69.55 L344.97,69.64 L345.43,69.72 L345.89,69.80 L346.35,69.87 L346.81,69.95 L347.27,70.03 L347.73,70.11 L348.19,70.19 L348.65,70.26 L349.11,70.34 L349.58,70.41 L350.04,70.49 L350.50,70.56 L350.96,70.64 L351.42,70.71 L351.89,70.78 L352.35,70.85 L352.81,70.92 L353.28,70.99 L353.74,71.06 L354.21,71.13 L354.67,71.20 L355.14,71.27 L355.60,71.34 L356.07,71.41 L356.53,71.47 L357.00,71.54 L357.47,71.61 L357.93,71.67 L358.40,71.74 L358.87,71.80 L359.34,71.86 L359.80,71.93 L360.27,71.99 L360.74,72.05 L361.21,72.11 L361.68,72.17 L362.15,72.23 L362.61,72.29 L363.08,72.35 L363.55,72.41 L364.02,72.47 L364.49,72.53 L364.97,72.58 L365.44,72.64 L365.91,72.70 L366.38,72.75 L366.85,72.81 L367.32,72.86 L367.79,72.92 L368.27,72.97 L368.74,73.02 L369.21,73.08 L369.68,73.13 L370.16,73.18 L370.63,73.23 L371.10,73.28 L371.58,73.33 L372.05,73.38 L372.53,73.43 L373.00,73.48 L373.48,73.53 L373.95,73.58 L374.43,73.63 L374.90,73.67 L375.38,73.72 L375.85,73.77 L376.33,73.81 L376.81,73.86 L377.28,73.90 L377.76,73.95 L378.24,73.99 L378.71,74.03 L379.19,74.08 L379.67,74.12 L380.14,74.16 L380.62,74.20 L381.10,74.25 L381.58,74.29 L382.06,74.33 L382.54,74.37 L383.01,74.41 L383.49,74.45 L383.97,74.48 L384.45,74.52 L384.93,74.56 L385.41,74.60 L385.89,74.64 L386.37,74.67 L386.85,74.71 L387.33,74.74 L387.81,74.78 L388.29,74.81 L388.77,74.85 L389.26,74.88 L389.74,74.92 L390.22,74.95 L390.70,74.98 L391.18,75.02 L391.66,75.05 L392.15,75.08 L392.63,75.11 L393.11,75.14 L393.59,75.17 L394.08,75.21 L394.56,75.24 L395.04,75.26 L395.52,75.29 L396.01,75.32 L396.49,75.35 L396.97,75.38 L397.46,75.41 L397.94,75.44 L398.43,75.46 L398.91,75.49 L399.39,75.52 L399.88,75.54 L400.36,75.57 L400.85,75.59 L401.33,75.62 L401.82,75.64 L402.30,75.67 L402.79,75.69 L403.27,75.72 L403.76,75.74 L404.24,75.76 L404.73,75.78 L405.21,75.81 L405.70,75.83 L406.19,75.85 L406.67,75.87 L407.16,75.89 L407.64,75.91 L408.13,75.94 L408.62,75.96 L409.10,75.98 L409.59,76.00 L410.08,76.01 L410.56,76.03 L411.05,76.05 L411.54,76.07 L412.02,76.09 L412.51,76.11 L413.00,76.12 L413.49,76.14 L413.97,76.16 L414.46,76.18 L414.95,76.19 L415.44,76.21 L415.92,76.22 L416.41,76.24 L416.90,76.25 L417.39,76.27 L417.88,76.28 L418.36,76.30 L418.85,76.31 L419.34,76.33 L419.83,76.34 L420.32,76.36 L420.81,76.37 L421.29,76.38 L421.78,76.39 L422.27,76.41 L422.76,76.42 L423.25,76.43 L423.74,76.44 L424.23,76.45 L424.71,76.47 L425.20,76.48 L425.69,76.49 L426.18,76.50 L426.67,76.51 L427.16,76.52 L427.65,76.53 L428.14,76.54 L428.63,76.55 L429.12,76.56 L429.61,76.57 L430.10,76.58 L430.58,76.58 L431.07,76.59 L431.56,76.60 L432.05,76.61 L432.54,76.62 L433.03,76.63 L433.52,76.63 L434.01,76.64 L434.50,76.65 L434.99,76.65 L435.48,76.66 L435.97,76.67 L436.46,76.67 L436.95,76.68 L437.44,76.69 L437.93,76.69 L438.42,76.70 L438.91,76.70 L439.40,76.71 L439.89,76.71 L440.38,76.72 L440.87,76.72 L441.36,76.73 L441.84,76.73 L442.33,76.74 L442.82,76.74 L443.31,76.75 L443.80,76.75 L444.29,76.75 L444.78,76.76 L445.27,76.76 L445.76,76.76 L446.25,76.77 L446.74,76.77 L447.23,76.77 L447.72,76.78 L448.21,76.78 L448.70,76.78 L449.19,76.78 L449.68,76.79 L450.17,76.79 L450.65,76.79 L451.14,76.79 L451.63,76.79 L452.12,76.80 L452.61,76.80 L453.10,76.80 L453.59,76.80 L454.08,76.80 L454.57,76.80 L455.06,76.80 L455.54,76.81 L456.03,76.81 L456.52,76.81 L457.01,76.81 L457.50,76.81 L457.99,76.81 L458.48,76.81 L458.96,76.81 L459.45,76.81 L459.94,76.81 L460.43,76.81 L460.92,76.81 L461.41,76.81 L461.89,76.81 L462.38,76.81 L462.87,76.81 L463.36,76.81 L463.84,76.81 L464.33,76.81 L464.82,76.81 L465.31,76.81 L465.79,76.81 L466.28,76.81 L466.77,76.81 L467.26,76.81 L467.74,76.81 L468.23,76.81 L468.72,76.81 L469.20,76.81 L469.69,76.80 L470.18,76.80 L470.66,76.80 L471.15,76.80 L471.64,76.80 L472.12,76.80 L472.61,76.80 L473.09,76.80 L473.58,76.80 L474.07,76.80 L474.55,76.80 L475.04,76.80 L475.52,76.79 L476.01,76.79 L476.49,76.79 L476.98,76.79 L477.46,76.79 L477.95,76.79 L478.43,76.79 L478.92,76.79 L479.40,76.79 L479.88,76.79 L480.37,76.78 L480.85,76.78 L481.34,76.78 L481.82,76.78 L482.30,76.78 L482.79,76.78 L483.27,76.78 L483.75,76.78 L484.24,76.78 L484.72,76.78 L485.20,76.78 L485.68,76.78 L486.17,76.78 L486.65,76.78 L487.13,76.78 L487.61,76.78 L488.09,76.78 L488.58,76.78 L489.06,76.77 L489.54,76.77 L490.02,76.77 L490.50,76.77" stroke="#00f" stroke-width="1.5" fill="none" stroke-dasharray="5.15 1.41" stroke-dashoffset="0"/>
<path d="M55.5,141.5H490.5" stroke="#000" stroke-width="0.45" fill="none"/>
<g class="tx">
<g font-size="17.3" letter-spacing="0.2"><text transform="translate(44.8,276.65) scale(1,1.09)" text-anchor="end">-1.0</text><text transform="translate(44.8,250.85) scale(1,1.09)" text-anchor="end">-0.8</text><text transform="translate(44.8,225.05) scale(1,1.09)" text-anchor="end">-0.6</text><text transform="translate(44.8,199.25) scale(1,1.09)" text-anchor="end">-0.4</text><text transform="translate(44.8,173.45) scale(1,1.09)" text-anchor="end">-0.2</text><text transform="translate(44.8,147.65) scale(1,1.09)" text-anchor="end">0.0</text><text transform="translate(44.8,121.85) scale(1,1.09)" text-anchor="end">0.2</text><text transform="translate(44.8,96.05) scale(1,1.09)" text-anchor="end">0.4</text><text transform="translate(44.8,70.25) scale(1,1.09)" text-anchor="end">0.6</text><text transform="translate(44.8,44.45) scale(1,1.09)" text-anchor="end">0.8</text><text transform="translate(44.8,18.65) scale(1,1.09)" text-anchor="end">1.0</text>
<text transform="translate(137.24,292.5) scale(1,1.09)" text-anchor="middle">1</text>
<text transform="translate(408.76,292.5) scale(1,1.09)" text-anchor="middle">10</text>
</g>
<g font-size="16" stroke="#fff" stroke-width="0.3">
<text transform="translate(448.5,217.0) scale(1.29,1.03)">Δ</text>
<text transform="translate(448.5,238.75) scale(1.29,1.03)">Δ</text>
<text transform="translate(448.5,260.5) scale(1.29,1.03)">Δ</text>
</g>
<g font-style="italic" stroke="#fff" stroke-width="0.25">
<text x="462.5" y="219.6" font-size="12.7" letter-spacing="1.2">BF</text>
<text x="462.4" y="232.7" font-size="12.5">f</text>
<text x="462.2" y="254.6" font-size="11.6">s</text>
</g>
<text transform="translate(246.9,320.7) scale(1.05,1)" font-size="21.5" font-style="italic" stroke="#fff" stroke-width="0.4">z</text>
<text x="261.1" y="325.6" font-size="30.5" stroke="#fff" stroke-width="0.75">≡</text>
<text x="291.4" y="312.8" font-size="14.5" font-style="italic" text-anchor="middle" stroke="#fff" stroke-width="0.3">M</text>
<text transform="translate(291.9,327) scale(1.12,1)" font-size="15.2" font-style="italic" text-anchor="middle" stroke="#fff" stroke-width="0.3">T</text>
</g>
<!-- legend -->
<path d="M407.2,211.6H440" stroke="#000" stroke-width="1.4"/>
<path d="M407.1,233.2H440.2" stroke="#f00" stroke-width="1.45" stroke-dasharray="1.6 2.37" stroke-dashoffset="0.2"/>
<path d="M407,254.9H440" stroke="#00f" stroke-width="1.55" stroke-dasharray="5.5 1.15"/>
<path d="M284.3,315.3h14.4" stroke="#000" stroke-width="0.7"/>
</svg>
</body></html>
